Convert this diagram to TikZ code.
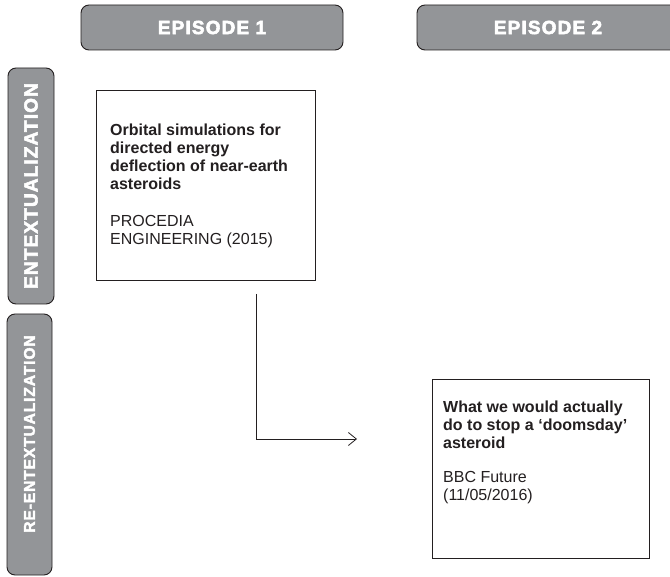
\documentclass[tikz,border=0pt]{standalone}
\usepackage{fontspec}
\setmainfont{Liberation Sans}
\newfontfamily\headfont{Liberation Sans}[LetterSpace=6,BoldFeatures={FakeBold=3}]
\usetikzlibrary{arrows.meta}
\definecolor{tabgray}{HTML}{939598}
\definecolor{edgegray}{HTML}{231F20}

\begin{document}
\begin{tikzpicture}[x=1pt,y=-1pt,
  tab/.style={draw=edgegray,fill=tabgray,line width=0.9pt,rounded corners=8pt},
  tablabel/.style={text=white,font=\headfont\bfseries\fontsize{19}{21}\selectfont},
  paper/.style={draw=edgegray,line width=1pt},
  papertext/.style={anchor=north west,inner sep=0pt,align=left,text=edgegray,font=\fontsize{16}{18}\selectfont}]

\useasboundingbox (0,0) rectangle (670,577);
\clip (0,0) rectangle (670,577);

\node[tab,tablabel,minimum width=262pt,minimum height=45pt] (ep1) at (212,27.5) {EPISODE 1};
\node[tab,tablabel,minimum width=262pt,minimum height=45pt] (ep2) at (548,27.5) {EPISODE 2};
\node[tab,tablabel,rotate=90,minimum width=236pt,minimum height=46pt] (ent) at (31,186) {ENTEXTUALIZATION};
\node[tab,rotate=90,minimum width=261pt,minimum height=45pt] (rent) at (29.5,444.5) {};
\node[tablabel,rotate=90,font=\headfont\bfseries\fontsize{15.5}{17}\selectfont] (rentlabel) at (29.5,434) {RE-ENTEXTUALIZATION};

\node[paper,minimum width=219pt,minimum height=190pt] (p1) at (205.5,186) {};
\node[paper,minimum width=217pt,minimum height=178pt] (p2) at (540.5,469) {};

\node[papertext] (t1) at (110,124) {\textbf{Orbital simulations for}\\\textbf{directed energy}\\\textbf{deflection of near-earth}\\\textbf{asteroids}\\[19pt]PROCEDIA\\ENGINEERING (2015)};
\node[papertext] (t2) at (443,401) {\textbf{What we would actually}\\\textbf{do to stop a ‘doomsday’}\\\textbf{asteroid}\\[16pt]BBC Future\\(11/05/2016)};

\coordinate (a1) at (256,294);
\coordinate (a2) at (357,439);
\draw[->,>={Straight Barb[length=8pt,width=13pt]},draw=edgegray,line width=0.8pt] (a1) |- (a2);

\end{tikzpicture}
\end{document}
